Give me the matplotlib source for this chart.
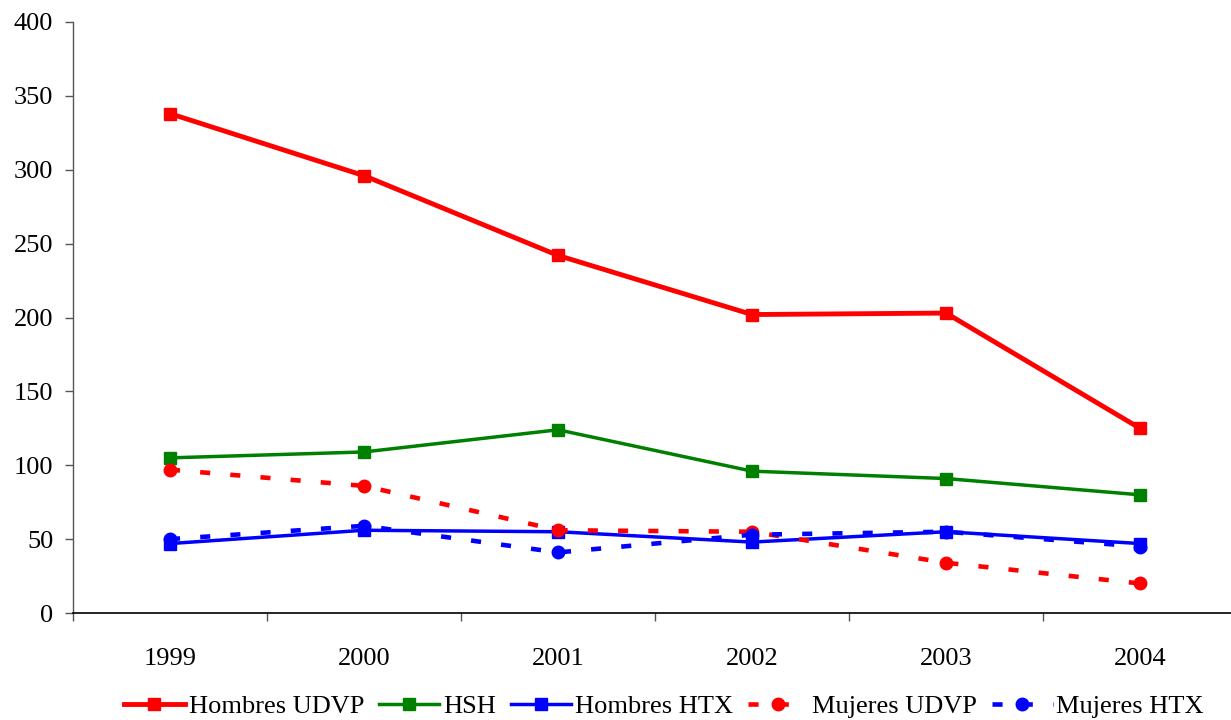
import matplotlib
matplotlib.use("Agg")
import matplotlib.pyplot as plt

years = ["1999", "2000", "2001", "2002", "2003", "2004"]
hombres_udvp = [338, 296, 242, 202, 203, 125]
hsh = [105, 109, 124, 96, 91, 80]
hombres_htx = [47, 56, 55, 48, 55, 47]
mujeres_udvp = [97, 86, 56, 55, 34, 20]
mujeres_htx = [50, 59, 41, 53, 55, 45]

plt.rcParams["font.family"] = ["Liberation Serif", "DejaVu Serif"]

W, H = 1231, 720
fig = plt.figure(figsize=(W / 100, H / 100), dpi=100)
ax = fig.add_axes([73 / W, (H - 613) / H, (1237 - 73) / W, (613 - 22) / H])

x = list(range(len(years)))
ax.plot(x, hombres_udvp, color="#ff0000", lw=3.5, marker="s", ms=8, label="Hombres UDVP")
ax.plot(x, hsh, color="#008000", lw=2.5, marker="s", ms=8, label="HSH")
ax.plot(x, hombres_htx, color="#0000ff", lw=2.5, marker="s", ms=8, label="Hombres HTX")
ax.plot(x, mujeres_udvp, color="#ff0000", lw=3.3, marker="o", ms=9,
        dashes=(2.2, 4.4), label="Mujeres UDVP")
ax.plot(x, mujeres_htx, color="#0000ff", lw=3.3, marker="o", ms=9,
        dashes=(2.2, 4.4), label="Mujeres HTX")

ax.set_xlim(-0.5, len(years) - 0.5)
ax.set_ylim(0, 400)
ax.set_yticks(range(0, 401, 50))
ax.set_xticks(x)
ax.set_xticklabels(years)
ax.set_xticks([i - 0.5 for i in range(len(years) + 1)], minor=True)
ax.tick_params(axis="x", which="major", length=0, pad=25, labelsize=19)
ax.tick_params(axis="x", which="minor", length=6, width=1, color="#555555")
ax.tick_params(axis="y", length=5.8, width=1, color="#555555", pad=8.5, labelsize=19)

for s in ("top", "right"):
    ax.spines[s].set_visible(False)
ax.spines["left"].set_color("#555555")
ax.spines["bottom"].set_color("#000000")
ax.spines["left"].set_linewidth(1)
ax.spines["bottom"].set_linewidth(1.2)

leg = fig.legend(loc="center", bbox_to_anchor=(664 / W, (H - 706) / H), ncol=5,
                 frameon=False, fontsize=19, handlelength=2.3, handletextpad=0.15,
                 columnspacing=0.55)

fig.savefig("out.png", dpi=100)
